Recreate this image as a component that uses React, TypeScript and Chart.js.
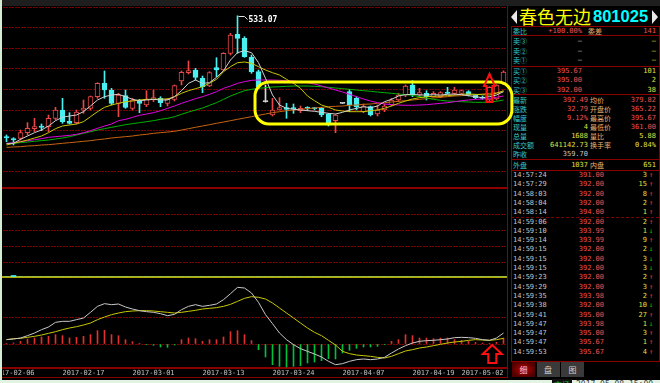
import React, { useEffect, useRef } from 'react';
import { Chart, registerables } from 'chart.js';

Chart.register(...registerables);

// ---------------- data ----------------
const OPEN = [230.8, 225.8, 226.7, 240.8, 250.8, 257.5, 255.8, 276.7, 297.5, 269.2,
  265.8, 297.5, 301.7, 330.8, 364.2, 347.5, 314.2, 333.3, 301.7, 320,
  310, 324.2, 326.7, 314.2, 324.2, 370, 390.8, 397.5, 376.7, 357.5,
  403.3, 397.5, 439.2, 486.7, 476.7, 429.2, 393.3, 318.3, 285, 297.5,
  303.3, 301.7, 295.8, 302.5, 302.5, 301.7, 287.5, 270.8, 314.2, 343.3,
  326.7, 293.3, 305.8, 287.5, 297.5, 310, 322.5, 335, 360, 335,
  339.2, 330.8, 330.8, 342.5, 339.2, 339.2, 343.3, 335, 329.2, 322.5,
  325, 365.22];
const HIGH = [235, 228.3, 247.5, 265.8, 276.7, 262.5, 285, 304.2, 326.7, 290.8,
  297.5, 322.5, 332.5, 365.8, 395, 351.7, 339.2, 347.5, 326.7, 324.2,
  345.8, 347.5, 330.8, 326.7, 360, 395, 420, 401.7, 382.5, 393.3,
  428.3, 440.8, 489.2, 533.07, 480.8, 435, 397.5, 360, 326.7, 328.3,
  314.2, 312.5, 307.5, 305.8, 304.2, 304.2, 289.2, 286, 315, 349.2,
  330.8, 312.5, 307.5, 310, 312.5, 326.7, 339.2, 360, 370.8, 351.7,
  345.8, 343.3, 343.3, 354.2, 354.2, 347.5, 345.8, 336.7, 332.5, 355.8,
  361, 395.67];
const LOW = [218.3, 210, 222.5, 235, 243.3, 245.8, 243.3, 272.5, 264.2, 262.5,
  262.5, 289.2, 297.5, 326.7, 326.7, 310, 280.8, 301.7, 297.5, 290.8,
  305.8, 318.3, 305.8, 307.5, 320, 360, 387.5, 372.5, 340.8, 355.8,
  380.8, 395.8, 435, 439.2, 429.2, 389.2, 351.7, 317, 282.5, 297.5,
  276.7, 289.2, 290.8, 295.8, 297.5, 280.8, 257.5, 240.8, 313.5, 293.3,
  297.5, 290.8, 282.5, 282.5, 293.3, 307.5, 318.3, 330.8, 330.8, 330.8,
  322.5, 329.2, 328.3, 337.5, 335, 336.7, 332.5, 325.8, 324.2, 320,
  322.5, 361];
const CLOSE = [227.5, 222.5, 240.8, 251.7, 255.8, 254.2, 276.7, 297.5, 268.3, 264.2,
  292.5, 301.7, 330.8, 364.2, 347.5, 314.2, 335, 304.2, 322.5, 314.2,
  324.2, 328.3, 315.8, 324.2, 358.3, 391.7, 395.8, 379.2, 355.8, 390.8,
  397.5, 439.2, 485, 476.7, 430.8, 393.3, 355.8, 318.3, 297.5, 303.3,
  299.2, 301, 301.7, 301.7, 300.8, 285, 260, 285, 314.2, 310,
  305.8, 305.8, 285, 297.5, 307.5, 322.5, 335, 357.5, 335, 340.8,
  330.8, 339.2, 340.8, 339.2, 347.5, 345.8, 335, 328.3, 326.7, 354.2,
  359.7, 392.49];

const MA5 = [214.2, 214.2, 224.2, 232.5, 240.8, 247.5, 257.5, 270.8, 279.2, 282.5,
  285, 293.3, 307.5, 322.5, 330.8, 335, 336.7, 330.8, 324.2, 320.8,
  322.5, 324.2, 322.5, 322.5, 330.8, 345.8, 364.2, 372.5, 364.2, 365.8,
  379.2, 395.8, 422.5, 440.8, 445.8, 440.8, 415.8, 376.7, 335, 310,
  301.7, 299.2, 297.5, 295.8, 294.2, 291.7, 289.2, 287.5, 291.7, 297.5,
  301.7, 305.8, 303.3, 307.5, 318.3, 324.2, 332.5, 335.8, 336.7, 335,
  335, 335.8, 335, 336.7, 337.5, 335.8, 333.3, 330.8, 328.3, 330.8,
  335, 343.3];
const MA10 = [210, 214.2, 218.3, 222.5, 227.5, 232.5, 240.8, 250.8, 257.5, 260,
  262.5, 268.3, 280.8, 293.3, 304.2, 310, 314.2, 318.3, 320, 322.5,
  324.2, 324.2, 325, 325, 330.8, 339.2, 345.8, 350.8, 355.8, 364.2,
  374.2, 393.3, 405.8, 415.8, 417.5, 414.2, 405.8, 397.5, 390.8, 385,
  374.2, 364.2, 351.7, 332.5, 320.8, 310, 304.2, 297.5, 295, 293.3,
  293.3, 293.3, 295.8, 297.5, 301.7, 307.5, 314.2, 320, 325, 328.3,
  330.8, 331.7, 332.5, 333.3, 335, 336.7, 337.5, 336.7, 335.8, 335,
  339.2, 345.8];
const MA20 = [213.3, 215.8, 218.3, 220.8, 223.3, 225.8, 229.2, 230.8, 232.5, 234.2,
  236.7, 240.8, 245.8, 251.7, 257.5, 262.5, 270.8, 274.2, 279.2, 284.2,
  287.5, 290.8, 295.8, 301.7, 307.5, 314.2, 320, 325.8, 330.8, 336.7,
  343.3, 351.7, 357.5, 364.2, 368.3, 371.7, 372.5, 372.5, 372.5, 371.7,
  370.8, 370, 368.3, 365.8, 362.5, 357.5, 352.5, 347.5, 342.5, 336.7,
  330.8, 325, 320, 315.8, 312.5, 310.8, 310, 309.2, 309.2, 310,
  310.8, 312.5, 314.2, 315.8, 318.3, 320.8, 322.5, 324.2, 325, 326.7,
  329.2, 332.5];
const MA30 = [212.5, 214.2, 215.8, 217.5, 219.2, 220.8, 222.5, 225, 227.5, 230.8,
  235, 239.2, 243.3, 247.5, 250.8, 254.2, 257.5, 260.8, 263.3, 265.8,
  268.3, 270.8, 274.2, 276.7, 280.8, 286.7, 292.5, 297.5, 302.5, 309.2,
  315.8, 324.2, 332.5, 339.2, 345.8, 349.2, 351.7, 353.3, 355, 355.8,
  356.7, 357.5, 357.5, 357.5, 356.7, 355.8, 354.2, 352.5, 350.8, 349.2,
  347.5, 345.8, 344.2, 342.5, 340.8, 339.2, 337.5, 335.8, 334.2, 330.8,
  327.5, 324.2, 321.7, 320, 319.2, 318.3, 317.5, 316.7, 316.7, 317.5,
  319.2, 322.5];
const MA60 = [204.2, 205, 205.8, 207.5, 208.3, 210, 210.8, 212.5, 214.2, 215.8,
  217.5, 219.2, 220.8, 223.3, 225, 227.5, 229.2, 230.8, 232.5, 235,
  236.7, 239.2, 240.8, 242.5, 244.2, 247.5, 250.8, 254.2, 257.5, 260.8,
  264.2, 267.5, 270.8, 274.2, 277.5, 280.8, 284.2, 287.5, 290.8, 293.3,
  295.8, 297.5, 299.2, 300.8, 302.5, 304.2, 305.8, 306.7, 307.5, 309.2,
  310, 311.7, 312.5, 314.2, 315.8, 317.5, 319.2, 320.8, 322.5, 324.2,
  325.8, 327.5, 329.2, 330.8, 332.5, 333.3, 335, 335.8, 337.5, 339.2,
  340.8, 343.3];

const VOLUME = [0, 1.5, 0, 0, 0, 0, 0, 0, 0, 0,
  0, 0, 0, 0, 0, 0, 0, 0, 0, 0,
  0, 0, 0, 0, 0, 0, 0, 0, 0, 0,
  0, 0, 0, 0, 0, 0, 0, 0, 0, 0,
  0, 0, 0, 0, 0, 0, 0, 0, 0, 0,
  0, 0, 0, 0, 0, 0, 0, 0, 0, 0,
  0, 0, 0, 0, 0, 0, 0, 0, 0, 0,
  0, 0];

const DIF = [2.17, 2.5, 3, 4.17, 5.5, 7.17, 8.5, 10.83, 11.33, 11.33,
  12.17, 13, 15.83, 18.83, 20.17, 19.67, 20, 18.5, 17.5, 16.67,
  16.17, 15.83, 15.17, 14.17, 14.83, 17.17, 18.83, 19.67, 18.83, 19.33,
  20, 22.17, 25.17, 28.33, 28, 25.5, 20.83, 14.67, 10.17, 5.5,
  2.17, -0.33, -2.33, -3.67, -5, -6.5, -8.67, -10.33, -9.83, -8.67,
  -7.83, -7.5, -7.83, -7.5, -6.67, -4.5, -2.5, -0.83, 0.5, 1.33,
  1.67, 1.83, 2.17, 2.5, 3.17, 3.33, 3.17, 2.83, 2.17, 1.83,
  3, 5.5];
const DEA = [2.17, 2.67, 2.83, 3.33, 3.83, 4.5, 5.33, 6.17, 7.17, 8,
  8.67, 9.5, 10.5, 12.17, 13.5, 14.67, 15.5, 16.17, 16.5, 16.67,
  16.67, 16.5, 16.17, 15.83, 15.5, 15.83, 16.33, 16.83, 17.5, 17.83,
  18.17, 18.83, 19.83, 21.33, 22.83, 23.67, 23.33, 22.5, 20.5, 18,
  15.5, 13, 10.5, 8, 5.83, 4.17, 1.83, -0.5, -3.67, -4.83,
  -5.5, -5.83, -6.17, -6.67, -7, -6.17, -4.83, -3.5, -2.83, -2,
  -1.5, -0.83, -0.17, 0.5, 1, 1.33, 1.83, 2.17, 2, 1.83,
  2.17, 2.83];
const MACD = [0.2, 0.5, 1.33, 2.5, 3, 3.5, 3.83, 4.67, 4.17, 3,
  3.33, 3.83, 4.67, 6.67, 6.83, 4.67, 4.17, 2.17, 1.17, 0.33,
  -0.33, -0.67, -1.5, -1.67, -0.5, 2.17, 3, 2.67, 1.33, 2.17,
  2.17, 3.5, 6.17, 6.67, 4.67, 1.67, -2.83, -6.5, -10.33, -11.17,
  -11.5, -11.17, -10.83, -9.5, -9, -8.33, -7.33, -7.5, -4.5, -3.17,
  -2.17, -1.5, -1.5, -1.17, -0.17, 1.33, 2.17, 4.67, 4.17, 3,
  3, 2.67, 3, 3, 2.17, 1.83, 1.33, 0.83, 0.5, 0.17,
  0.83, 3];

const DATE_TICKS = ['2017-02-06', '2017-02-17', '2017-03-01', '2017-03-13', '2017-03-24', '2017-04-07', '2017-04-19', '2017-05-02'];
const DATE_TICK_INDEX = [1, 11, 21, 31, 41, 51, 61, 68];

const MAIN_GRID = [143, 194.5, 246, 297.5, 349, 400.5, 452, 503.5, 555];
const VOL_GRID = [15, 31, 47, 63];
const MACD_GRID = [0, 13];

// annotations (in data coordinates)
const HIGHLIGHT = { from: 35.5, to: 72.2, top: 367.5, bottom: 262.5 };
const MAIN_ARROW = { index: 69, top: 387.5, bottom: 317.5 };
const MACD_ARROW = { index: 69.4, top: -0.5, bottom: -9.5 };

// quote panel
const TITLE_NAME = '春色无边';
const TITLE_CODE = '801025';
const WEIBI = ['委比', '+100.00%', '委差', '141'];
const ASK_LABELS = ['卖③', '卖②', '卖①'];
const ASK_PRICES = ['—', '—', '—'];
const ASK_VOLS = ['—', '—', '—'];
const BID_LABELS = ['买①', '买②', '买③'];
const BID_PRICES = ['395.67', '395.00', '392.00'];
const BID_VOLS = ['101', '2', '38'];
const STAT_LABELS_L = ['最新', '涨跌', '幅度', '现量', '总量', '成交额', '昨收'];
const STAT_VALUES_L = ['392.49', '32.79', '9.12%', '4', '1688', '641142.73', '359.70'];
const STAT_LABELS_R = ['均价', '开盘价', '最高价', '最低价', '量比', '换手率', ''];
const STAT_VALUES_R = ['379.82', '365.22', '395.67', '361.00', '5.88', '0.84%', ''];
const OUTER = ['外盘', '1037', '内盘', '651'];
const TRADE_TIMES = ['14:57:24', '14:57:29', '14:58:03', '14:58:04', '14:58:14', '14:59:06', '14:59:10', '14:59:14', '14:59:15', '14:59:15',
  '14:59:15', '14:59:23', '14:59:29', '14:59:35', '14:59:38', '14:59:41', '14:59:47', '14:59:47', '14:59:47', '14:59:53'];
const TRADE_PRICES = ['391.00', '392.00', '392.00', '392.00', '394.00', '392.00', '393.99', '393.99', '392.00', '392.00',
  '392.00', '392.00', '392.00', '393.98', '392.00', '395.00', '393.98', '395.00', '395.67', '395.67'];
const TRADE_VOLS = ['3', '15', '8', '2', '1', '2', '1', '9', '2', '3',
  '3', '2', '3', '2', '10', '27', '1', '3', '1', '4'];
const TRADE_DIRS = ['B', 'B', 'B', 'B', 'B', 'B', 'S', 'B', 'S', 'S',
  'S', 'B', 'B', 'B', 'S', 'B', 'S', 'B', 'B', 'B'];
const TABS = ['细', '盘', '图'];
const STATUS = ['市场', '2017-05-08 15:00'];

// ---------------- styles ----------------
const MONO = '"DejaVu Sans Mono", "Liberation Mono", monospace';
const CJK = '"Noto Sans CJK SC", "Noto Sans", sans-serif';
const UP = '#e84848';
const DOWN = '#48f0f0';
const FLAT = '#d8d8d8';
const GRID = '#7c0000';
const FRAME = '#8c0000';
const C_LABEL = '#38c8c8';
const C_RED = '#f05050';
const C_YEL = '#e0e040';
const C_WHITE = '#c8c8c8';

const candleColor = (i: number) => (CLOSE[i] > OPEN[i] ? UP : CLOSE[i] < OPEN[i] ? DOWN : FLAT);
const LABELS = OPEN.map((_, i) => String(i));

const hiddenX = { display: false, offset: true, grid: { display: false } };
const gridY = (min: number, max: number, ticks: number[]) => ({
  min, max, display: true, position: 'left',
  afterFit: (s: any) => { s.width = 0; },
  afterBuildTicks: (s: any) => { s.ticks = ticks.map((v) => ({ value: v })); },
  ticks: { display: false },
  grid: { color: GRID, drawTicks: false, lineWidth: 1 },
  border: { display: false, dash: [2, 1] },
});

function drawUpArrow(ctx: CanvasRenderingContext2D, cx: number, top: number, bottom: number, headW: number, shaftW: number, headH: number) {
  ctx.beginPath();
  ctx.moveTo(cx, top);
  ctx.lineTo(cx + headW / 2, top + headH);
  ctx.lineTo(cx + shaftW / 2, top + headH);
  ctx.lineTo(cx + shaftW / 2, bottom);
  ctx.lineTo(cx - shaftW / 2, bottom);
  ctx.lineTo(cx - shaftW / 2, top + headH);
  ctx.lineTo(cx - headW / 2, top + headH);
  ctx.closePath();
  ctx.strokeStyle = '#ff1010';
  ctx.lineWidth = 2;
  ctx.lineJoin = 'miter';
  ctx.stroke();
}

const mainAnnot = {
  id: 'mainAnnot',
  afterDraw(chart: any) {
    const { ctx, scales } = chart;
    const xs = scales.x, ys = scales.y;
    let hi = 0;
    HIGH.forEach((h, i) => { if (h > HIGH[hi]) hi = i; });
    const px = Math.round(xs.getPixelForValue(hi)) + 0.5;
    const py = Math.round(ys.getPixelForValue(HIGH[hi])) + 0.5;
    ctx.save();
    ctx.strokeStyle = '#e0e0e0';
    ctx.lineWidth = 1;
    ctx.beginPath();
    ctx.moveTo(px, py);
    ctx.lineTo(px + 6, py);
    ctx.lineTo(px + 9, py + 3);
    ctx.stroke();
    ctx.fillStyle = '#ffffff';
    ctx.font = 'bold 8px ' + MONO;
    ctx.textBaseline = 'middle';
    ctx.fillText(HIGH[hi].toFixed(2), px + 10, py + 3);
    const x1 = xs.getPixelForValue(HIGHLIGHT.from);
    const x2 = xs.getPixelForValue(HIGHLIGHT.to);
    const y1 = ys.getPixelForValue(HIGHLIGHT.top);
    const y2 = ys.getPixelForValue(HIGHLIGHT.bottom);
    ctx.strokeStyle = '#ffff00';
    ctx.lineWidth = 3;
    ctx.beginPath();
    (ctx as any).roundRect(x1, y1, x2 - x1, y2 - y1, 14);
    ctx.stroke();
    const ax = xs.getPixelForValue(MAIN_ARROW.index);
    drawUpArrow(ctx, ax, ys.getPixelForValue(MAIN_ARROW.top), ys.getPixelForValue(MAIN_ARROW.bottom), 11, 6, 12);
    ctx.restore();
  },
};

const macdAnnot = {
  id: 'macdAnnot',
  afterDraw(chart: any) {
    const { ctx, scales } = chart;
    const ax = scales.x.getPixelForValue(MACD_ARROW.index);
    ctx.save();
    drawUpArrow(ctx, ax, scales.y.getPixelForValue(MACD_ARROW.top), scales.y.getPixelForValue(MACD_ARROW.bottom), 19, 8, 9);
    ctx.restore();
  },
};

function useChart(ref: React.RefObject<HTMLCanvasElement>, make: () => any) {
  useEffect(() => {
    if (!ref.current) return;
    const chart = new Chart(ref.current, make());
    return () => chart.destroy();
  }, []);
}

const baseOptions = {
  animation: false,
  responsive: false,
  maintainAspectRatio: false,
  events: [],
  layout: { padding: { left: 0, right: 7, top: 0, bottom: 0 }, autoPadding: false },
  plugins: { legend: { display: false }, tooltip: { enabled: false } },
};

const line = (data: number[], color: string) => ({
  type: 'line', data, borderColor: color, borderWidth: 1, pointRadius: 0, tension: 0, fill: false,
});

function MainChart() {
  const ref = useRef<HTMLCanvasElement>(null);
  useChart(ref, () => ({
    type: 'bar',
    data: {
      labels: LABELS,
      datasets: [
        line(MA5, '#d0d0d0'),
        line(MA10, '#c8c800'),
        line(MA20, '#e000e0'),
        line(MA30, '#00b400'),
        line(MA60, '#c86410'),
        {
          type: 'bar',
          data: OPEN.map((o, i) => [o, CLOSE[i]]),
          backgroundColor: OPEN.map((o, i) => (CLOSE[i] > o ? '#000000' : candleColor(i))),
          borderColor: OPEN.map((_, i) => candleColor(i)),
          borderWidth: 1, borderSkipped: false, barThickness: 5, grouped: false, minBarLength: 1,
        },
        {
          type: 'bar',
          data: LOW.map((l, i) => [l, HIGH[i]]),
          backgroundColor: OPEN.map((_, i) => candleColor(i)),
          borderWidth: 0, barThickness: 1, grouped: false,
        },
      ],
    },
    options: { ...baseOptions, scales: { x: hiddenX, y: gridY(102.5, 555, MAIN_GRID) } },
    plugins: [mainAnnot],
  }));
  return <canvas ref={ref} width={511} height={181} style={{ position: 'absolute', left: 3, top: 7 }} />;
}

function VolChart() {
  const ref = useRef<HTMLCanvasElement>(null);
  useChart(ref, () => ({
    type: 'bar',
    data: {
      labels: LABELS,
      datasets: [{ data: VOLUME, backgroundColor: DOWN, barThickness: 5, borderWidth: 0 }],
    },
    options: { ...baseOptions, scales: { x: hiddenX, y: gridY(0, 89, VOL_GRID) } },
  }));
  return <canvas ref={ref} width={511} height={89} style={{ position: 'absolute', left: 3, top: 188 }} />;
}

function MacdChart() {
  const ref = useRef<HTMLCanvasElement>(null);
  useChart(ref, () => ({
    type: 'bar',
    data: {
      labels: LABELS,
      datasets: [
        line(DIF, '#c8c8c8'),
        line(DEA, '#c8c800'),
        {
          type: 'bar', data: MACD,
          backgroundColor: MACD.map((v) => (v >= 0 ? '#e03030' : '#00c040')),
          borderWidth: 0, barThickness: 1, grouped: false,
        },
      ],
    },
    options: {
      ...baseOptions,
      scales: {
        x: {
          display: true, offset: true,
          afterFit: (s: any) => { s.height = 10; },
          grid: { display: false, drawTicks: false },
          border: { display: false },
          ticks: {
            autoSkip: false, maxRotation: 0, minRotation: 0, padding: 1,
            color: '#c0c0c0', font: { family: MONO, size: 7 },
            callback: (_v: any, i: number) => {
              const k = DATE_TICK_INDEX.indexOf(i);
              return k >= 0 ? DATE_TICKS[k] : '';
            },
          },
        },
        y: gridY(-12, 33.5, MACD_GRID),
      },
    },
    plugins: [macdAnnot],
  }));
  return <canvas ref={ref} width={511} height={101} style={{ position: 'absolute', left: 3, top: 277 }} />;
}

type TP = { x: number; y: number; c: string; r?: boolean; cjk?: boolean; s?: number; children: any };
function T({ x, y, c, r, cjk, s, children }: TP) {
  const size = s ?? 7;
  const st: React.CSSProperties = {
    position: 'absolute', top: y - 5, height: 10, lineHeight: '10px', fontSize: size,
    color: c, fontFamily: cjk ? CJK : MONO, whiteSpace: 'pre',
  };
  if (r) { st.left = x - 120; st.width = 120; st.textAlign = 'right'; } else { st.left = x; }
  return <div style={st}>{children}</div>;
}

const HLine = ({ y, x1 = 511, x2 = 659, c = FRAME, h = 1, dashed = false }: any) => (
  <div style={{ position: 'absolute', left: x1, top: y, width: x2 - x1, height: 0, borderTop: `${h}px ${dashed ? 'dashed' : 'solid'} ${c}` }} />
);

function QuotePanel() {
  const statY = [100, 109, 118, 127, 136, 145, 154];
  const leftColor = [C_RED, C_RED, C_RED, C_YEL, C_YEL, C_YEL, C_WHITE];
  const rightColor = [C_RED, C_RED, C_RED, C_RED, C_YEL, C_YEL, C_WHITE];
  return (
    <>
      <div style={{ position: 'absolute', left: 511, top: 10, width: 0, height: 0, borderTop: '7px solid transparent', borderBottom: '7px solid transparent', borderRight: '6px solid #e8e8e8' }} />
      <div style={{ position: 'absolute', left: 652, top: 10, width: 0, height: 0, borderTop: '7px solid transparent', borderBottom: '7px solid transparent', borderLeft: '6px solid #e8e8e8' }} />
      <div style={{ position: 'absolute', left: 519, top: 5, height: 22, lineHeight: '22px', fontSize: 18, color: '#ffff00', fontFamily: CJK, whiteSpace: 'pre' }}>{TITLE_NAME}</div>
      <div style={{ position: 'absolute', left: 593, top: 5, height: 22, lineHeight: '22px', fontSize: 16.5, fontWeight: 'bold', color: '#00ffff', fontFamily: '"Liberation Sans", Arial, sans-serif' }}>{TITLE_CODE}</div>
      <div style={{ position: 'absolute', left: 511, top: 26, width: 147, height: 334, border: `1px solid ${FRAME}` }} />
      <HLine y={35} />
      <HLine y={66} />
      <HLine y={94} />
      <HLine y={159} />
      <HLine y={170} />
      <HLine y={217} c={GRID} dashed />
      <T x={513} y={30.5} c={C_LABEL} cjk>{WEIBI[0]}</T>
      <T x={582} y={30.5} c={C_RED} r>{WEIBI[1]}</T>
      <T x={588} y={30.5} c="#e8b070" cjk>{WEIBI[2]}</T>
      <T x={656} y={30.5} c={C_RED} r>{WEIBI[3]}</T>
      {ASK_LABELS.map((l, i) => (
        <React.Fragment key={'a' + i}>
          <T x={513} y={41 + i * 9.5} c={C_LABEL} cjk>{l}</T>
          <T x={582} y={41 + i * 9.5} c={C_WHITE} r>{ASK_PRICES[i]}</T>
          <T x={656} y={41 + i * 9.5} c={C_YEL} r>{ASK_VOLS[i]}</T>
        </React.Fragment>
      ))}
      {BID_LABELS.map((l, i) => (
        <React.Fragment key={'b' + i}>
          <T x={513} y={71 + i * 9.3} c={C_LABEL} cjk>{l}</T>
          <T x={582} y={71 + i * 9.3} c={C_RED} r>{BID_PRICES[i]}</T>
          <T x={656} y={71 + i * 9.3} c={C_YEL} r>{BID_VOLS[i]}</T>
        </React.Fragment>
      ))}
      {STAT_LABELS_L.map((l, i) => (
        <React.Fragment key={'s' + i}>
          <T x={513} y={statY[i]} c={C_LABEL} cjk>{l}</T>
          <T x={588} y={statY[i]} c={leftColor[i]} r>{STAT_VALUES_L[i]}</T>
          <T x={590} y={statY[i]} c="#e8b070" cjk>{STAT_LABELS_R[i]}</T>
          <T x={656} y={statY[i]} c={rightColor[i]} r>{STAT_VALUES_R[i]}</T>
        </React.Fragment>
      ))}
      <T x={513} y={165} c={C_LABEL} cjk>{OUTER[0]}</T>
      <T x={588} y={165} c={C_YEL} r>{OUTER[1]}</T>
      <T x={590} y={165} c="#e8b070" cjk>{OUTER[2]}</T>
      <T x={656} y={165} c={C_YEL} r>{OUTER[3]}</T>
      {TRADE_TIMES.map((t, i) => {
        const y = 175 + i * 9.3;
        const up = TRADE_DIRS[i] === 'B';
        return (
          <React.Fragment key={'t' + i}>
            <T x={513} y={y} c={C_WHITE}>{t}</T>
            <T x={604} y={y} c={C_RED} r>{TRADE_PRICES[i]}</T>
            <T x={647} y={y} c={C_YEL} r>{TRADE_VOLS[i]}</T>
            <T x={649} y={y} c={up ? '#ff3030' : '#00d000'}>{up ? '↑' : '↓'}</T>
          </React.Fragment>
        );
      })}
      {TABS.map((t, i) => (
        <div key={'tab' + i} style={{
          position: 'absolute', left: 512 + i * 24.5, top: 362, width: 23, height: 15, lineHeight: '15px',
          textAlign: 'center', fontSize: 8, fontFamily: CJK, color: i === 0 ? '#ffc8c8' : '#d0d0d0',
          background: i === 0 ? 'radial-gradient(ellipse at center, #c00000 0%, #500000 75%)' : '#3a3a3a',
        }}>{t}</div>
      ))}
      {/* status bar (mostly cut off) */}
      <div style={{ position: 'absolute', left: 552, top: 379, width: 20, height: 4, background: '#101010', overflow: 'hidden' }}>
        <div style={{ position: 'absolute', left: 2, top: 1, fontSize: 8, lineHeight: '10px', color: '#20c020', fontFamily: CJK, whiteSpace: 'pre' }}>{STATUS[0]}</div>
      </div>
      <div style={{ position: 'absolute', left: 576, top: 379, width: 84, height: 4, overflow: 'hidden' }}>
        <div style={{ position: 'absolute', left: 0, top: 1, fontSize: 8, lineHeight: '10px', color: '#404040', fontFamily: MONO, whiteSpace: 'pre' }}>{STATUS[1]}</div>
      </div>
    </>
  );
}

export default function App() {
  return (
    <div style={{ position: 'fixed', left: 0, top: 0, width: 660, height: 383, background: '#000', overflow: 'hidden' }}>
      <div style={{ position: 'absolute', left: 0, top: 0, width: 660, height: 6, background: '#1e1e1e' }} />
      <div style={{ position: 'absolute', left: 0, top: 0, width: 2, height: 383, background: '#d4ecd4' }} />
      <div style={{ position: 'absolute', left: 0, top: 380, width: 660, height: 3, background: '#e4f2e4' }} />
      <HLine y={187} x1={2} x2={508} c={FRAME} h={2} />
      <div style={{ position: 'absolute', left: 2, top: 276, width: 506, height: 2, background: '#b4a800' }} />
      <HLine y={367} x1={2} x2={508} c={FRAME} h={2} />
      <HLine y={377} x1={2} x2={508} c={FRAME} h={1} />
      <div style={{ position: 'absolute', left: 507, top: 6, width: 1, height: 372, background: FRAME }} />
      <QuotePanel />
      <VolChart />
      <MacdChart />
      <MainChart />
    </div>
  );
}
